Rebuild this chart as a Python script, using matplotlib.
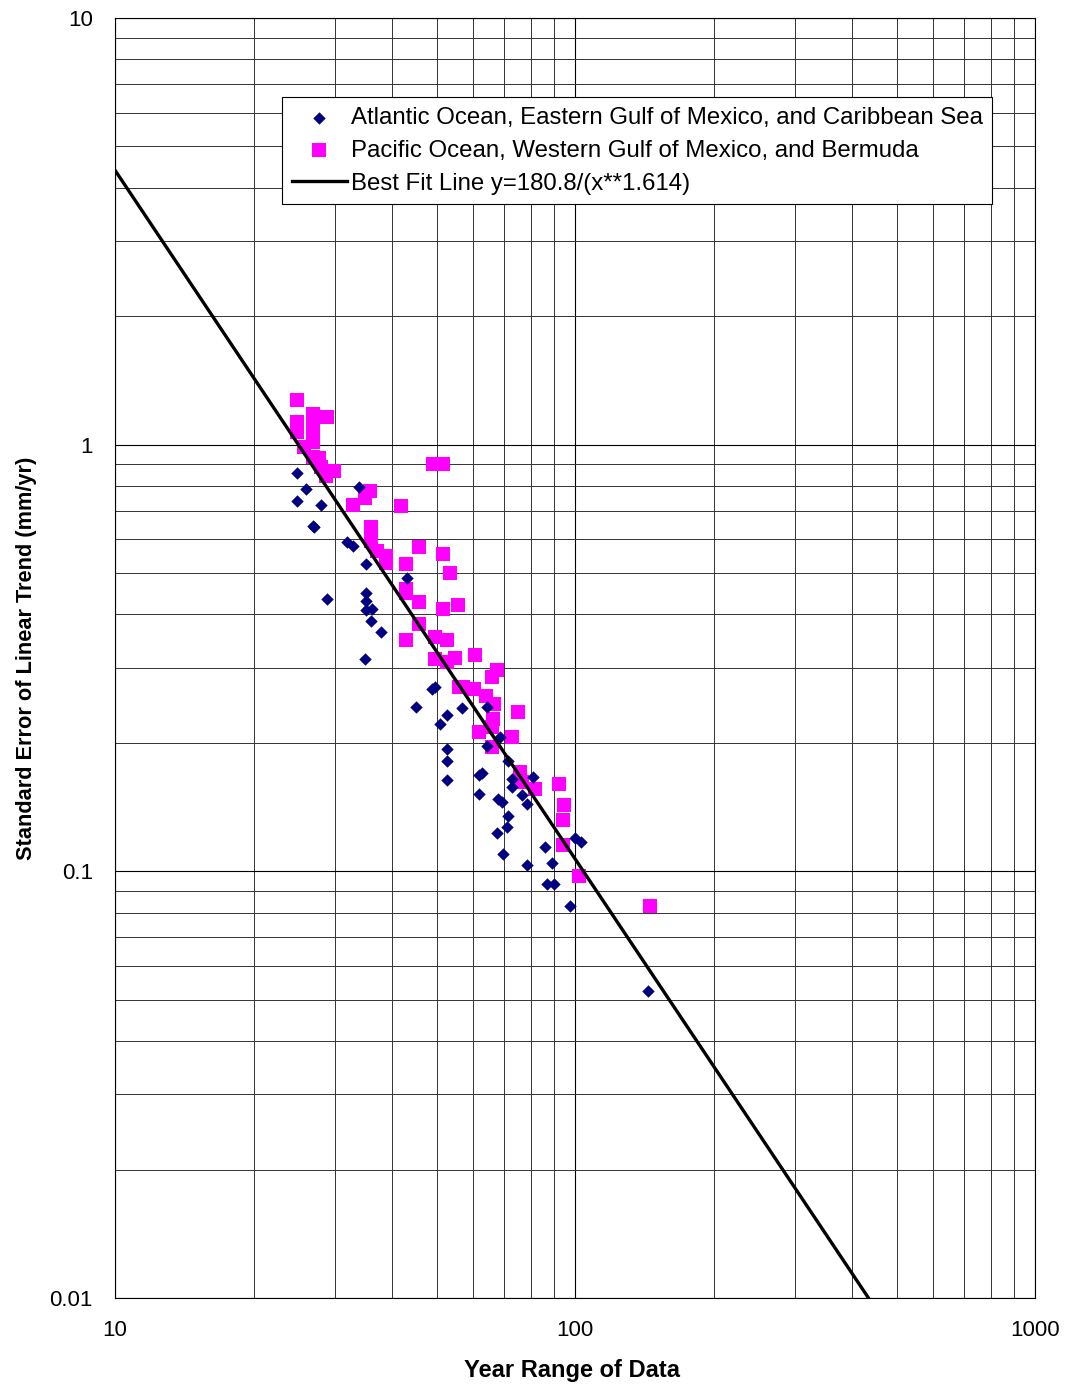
import numpy as np
import matplotlib
matplotlib.use("Agg")
import matplotlib.pyplot as plt
from matplotlib.ticker import LogLocator, FuncFormatter, NullFormatter

# === DATEN ===
# Atlantic Ocean, Eastern Gulf of Mexico, Caribbean Sea
atl_x = [24.9, 26.0, 24.9, 28.0, 26.9, 27.1, 33.9, 31.9, 32.9, 35.2,
         43.1, 28.9, 35.2, 35.2, 35.2, 36.2, 36.0, 37.9, 35.0, 45.1,
         48.9, 49.5, 50.9, 52.7, 52.7, 52.7, 52.7, 56.8, 64.3, 68.7,
         64.3, 71.5, 62.7, 61.8, 61.8, 73.0, 73.0, 81.0, 76.7, 78.6,
         68.0, 69.4, 71.5, 71.2, 67.7, 69.8, 78.6, 86.1, 89.1, 100.0,
         103.0, 87.0, 90.0, 97.5, 144.0]
atl_y = [0.860, 0.789, 0.736, 0.724, 0.646, 0.643, 0.797, 0.593, 0.580, 0.526,
         0.486, 0.434, 0.450, 0.431, 0.409, 0.413, 0.387, 0.363, 0.315, 0.243,
         0.267, 0.270, 0.221, 0.232, 0.193, 0.181, 0.164, 0.241, 0.243, 0.207,
         0.197, 0.181, 0.170, 0.168, 0.152, 0.165, 0.158, 0.166, 0.151, 0.144,
         0.148, 0.145, 0.1345, 0.127, 0.123, 0.110, 0.1035, 0.114, 0.1045, 0.1195,
         0.117, 0.0932, 0.0932, 0.0828, 0.0524]

# Pacific Ocean, Western Gulf of Mexico, Bermuda
pac_x = [24.9, 26.9, 28.9, 24.9, 24.9, 26.9, 26.9, 26.9, 25.8, 26.9,
         27.8, 28.0, 29.9, 28.7, 49.1, 51.6, 35.8, 35.0, 32.9, 41.9,
         36.0, 36.0, 36.0, 37.1, 38.8, 38.8, 45.8, 51.6, 42.9, 53.6,
         42.9, 42.9, 45.8, 51.6, 55.7, 45.8, 42.9, 49.7, 52.7, 49.7,
         52.7, 54.8, 60.6, 67.7, 66.0, 57.1, 55.9, 60.3, 64.0, 66.7,
         75.2, 66.4, 66.0, 61.8, 73.0, 66.0, 75.9, 76.7, 81.8, 92.3,
         94.7, 94.2, 94.2, 102.0, 145.6]
pac_y = [1.27, 1.18, 1.16, 1.13, 1.07, 1.11, 1.07, 1.016, 0.989, 0.937,
         0.932, 0.888, 0.869, 0.846, 0.903, 0.903, 0.780, 0.751, 0.724, 0.720,
         0.643, 0.619, 0.596, 0.562, 0.547, 0.529, 0.577, 0.555, 0.526, 0.501,
         0.458, 0.450, 0.427, 0.413, 0.420, 0.379, 0.349, 0.355, 0.349, 0.315,
         0.310, 0.317, 0.322, 0.296, 0.286, 0.271, 0.270, 0.268, 0.257, 0.247,
         0.236, 0.227, 0.218, 0.212, 0.206, 0.196, 0.171, 0.162, 0.156, 0.160,
         0.143, 0.132, 0.115, 0.0973, 0.0828]

# Best-Fit-Linie y = a / x**b
fit_a = 180.8
fit_b = 1.614

# === PLOT ===
plt.rcParams['font.family'] = ['Liberation Sans', 'DejaVu Sans']

fig = plt.figure(figsize=(10.65, 13.86), dpi=100)
ax = fig.add_axes([0.108, 0.0635, 0.864, 0.9235])

ax.set_xscale('log')
ax.set_yscale('log')
ax.set_xlim(10, 1000)
ax.set_ylim(0.01, 10)

# Gitter (Haupt- und Nebenlinien)
ax.xaxis.set_major_locator(LogLocator(base=10))
ax.xaxis.set_minor_locator(LogLocator(base=10, subs=np.arange(2, 10)))
ax.yaxis.set_major_locator(LogLocator(base=10))
ax.yaxis.set_minor_locator(LogLocator(base=10, subs=np.arange(2, 10)))
ax.xaxis.set_minor_formatter(NullFormatter())
ax.yaxis.set_minor_formatter(NullFormatter())
fmt = FuncFormatter(lambda v, p: '%g' % v)
ax.xaxis.set_major_formatter(fmt)
ax.yaxis.set_major_formatter(fmt)

ax.grid(True, which='major', color='black', linewidth=0.8)
ax.grid(True, which='minor', color='#333333', linewidth=0.7)
ax.set_axisbelow(True)
ax.tick_params(which='both', length=0, labelsize=16)
ax.tick_params(axis='x', pad=16)
ax.tick_params(axis='y', pad=16)

for sp in ax.spines.values():
    sp.set_color('black')
    sp.set_linewidth(0.8)

# Datenpunkte
ax.scatter(atl_x, atl_y, marker='D', s=40, color='#000080', linewidths=0,
           zorder=3, label='Atlantic Ocean, Eastern Gulf of Mexico, and Caribbean Sea')
ax.scatter(pac_x, pac_y, marker='s', s=95, color='#FF00FF', linewidths=0,
           zorder=2, label='Pacific Ocean, Western Gulf of Mexico, and Bermuda')

# Best-Fit-Linie
x_fit = np.logspace(1, 3, 200)
y_fit = fit_a / x_fit ** fit_b
ax.plot(x_fit, y_fit, color='black', linewidth=2.4, zorder=4,
        label='Best Fit Line y=180.8/(x**1.614)')

ax.set_xlabel('Year Range of Data', fontsize=17, fontweight='bold')
ax.xaxis.set_label_coords(0.497, -0.048)
ax.set_ylabel('Standard Error of Linear Trend (mm/yr)', fontsize=15.7, fontweight='bold')
ax.yaxis.set_label_coords(-0.085, 0.5)

leg = ax.legend(loc='upper left', bbox_to_anchor=(0.1815, 0.938), borderaxespad=0,
                fontsize=17.3, frameon=True, fancybox=False, handlelength=2.3,
                handletextpad=0.15, labelspacing=0.45, borderpad=0.4)
leg.get_frame().set_edgecolor('black')
leg.get_frame().set_linewidth(0.8)
leg.get_frame().set_alpha(1)

plt.savefig('out.png', dpi=100)
